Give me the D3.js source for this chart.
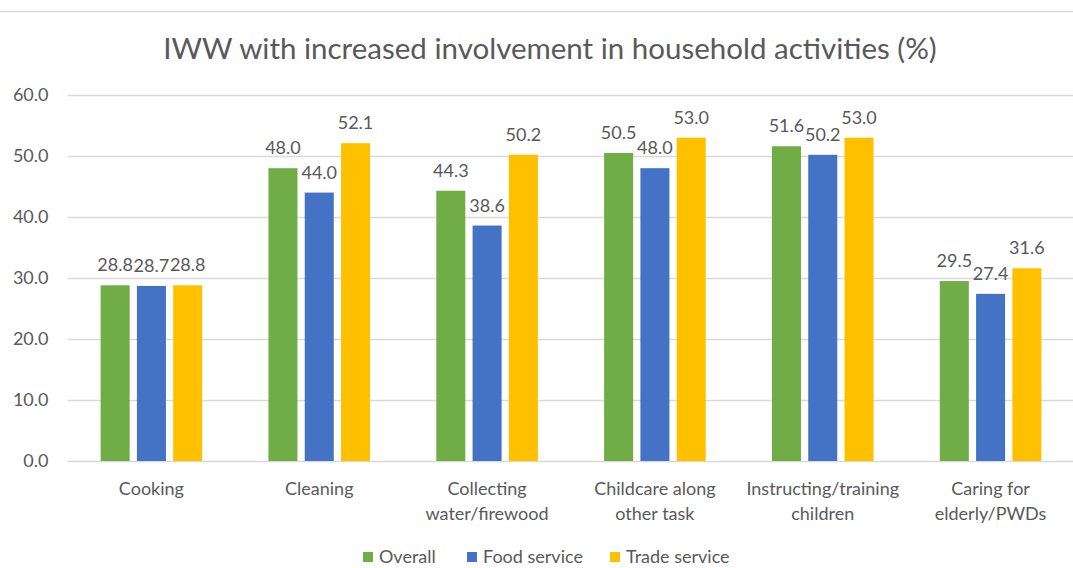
<!DOCTYPE html>
<html>
<head>
<meta charset="utf-8">
<script src="https://cdn.jsdelivr.net/npm/d3@7"></script>
<style>
  html, body { margin: 0; padding: 0; background: #fff; }
  svg { display: block; font-family: Lato, "Open Sans", sans-serif; }
</style>
</head>
<body>
<svg id="chart" width="1073" height="568"></svg>
<script>
const title = "IWW with increased involvement in household activities (%)";
const categories = [
  ["Cooking"],
  ["Cleaning"],
  ["Collecting", "water/firewood"],
  ["Childcare along", "other task"],
  ["Instructing/training", "children"],
  ["Caring for", "elderly/PWDs"]
];
const seriesNames = ["Overall", "Food service", "Trade service"];
const seriesColors = ["#70AD47", "#4472C4", "#FFC000"];
const overall      = [28.8, 48.0, 44.3, 50.5, 51.6, 29.5];
const foodService  = [28.7, 44.0, 38.6, 48.0, 50.2, 27.4];
const tradeService = [28.8, 52.1, 50.2, 53.0, 53.0, 31.6];
const yTicks = [0, 10, 20, 30, 40, 50, 60];

const seriesValues = [overall, foodService, tradeService];
const catKeys = categories.map(c => c.join(" "));

const svg = d3.select("#chart");
const W = 1073, H = 568;
const textColor = "#595959";
const gridColor = "#D9D9D9";

// chart border (top edge visible)
svg.append("line").attr("x1", 0).attr("x2", W).attr("y1", 11.5).attr("y2", 11.5)
  .attr("stroke", gridColor).attr("stroke-width", 1.5);

const plotLeft = 67.5, plotRight = 1074.5, plotTop = 95, plotBottom = 461;

const x0 = d3.scaleBand().domain(catKeys).range([plotLeft, plotRight]).padding(0);
const groupW = 101.6;
const x1 = d3.scaleBand().domain(seriesNames).range([0, groupW]).paddingInner(0.2).paddingOuter(0);
const y = d3.scaleLinear().domain([0, 60]).range([plotBottom, plotTop]);

// Title
svg.append("text")
  .attr("x", 550).attr("y", 59)
  .attr("text-anchor", "middle")
  .attr("fill", textColor)
  .attr("font-size", 29.5)
  .text(title);

// Grid + y axis
const yAxis = d3.axisLeft(y).tickValues(yTicks).tickFormat(d3.format(".1f"))
  .tickSize(-(plotRight - plotLeft)).tickPadding(19);
const gy = svg.append("g").attr("transform", `translate(${plotLeft},0)`).call(yAxis);
gy.select(".domain").remove();
gy.selectAll(".tick line").attr("stroke", gridColor).attr("stroke-width", 1.3);
gy.selectAll(".tick text").attr("fill", textColor).attr("font-size", 18)
  .attr("font-family", "Lato, 'Open Sans', sans-serif");

// Bars
const groups = svg.append("g").selectAll("g")
  .data(catKeys).join("g")
  .attr("transform", d => `translate(${x0(d) + (x0.bandwidth() - groupW) / 2},0)`);

groups.each(function(cat, ci) {
  const g = d3.select(this);
  seriesNames.forEach((s, si) => {
    const v = seriesValues[si][ci];
    g.append("rect")
      .attr("x", x1(s)).attr("width", x1.bandwidth())
      .attr("y", y(v)).attr("height", y(0) - y(v))
      .attr("fill", seriesColors[si]);
    g.append("text")
      .attr("x", x1(s) + x1.bandwidth() / 2)
      .attr("y", y(v) - 14)
      .attr("text-anchor", "middle")
      .attr("fill", textColor)
      .attr("font-size", 18)
      .text(d3.format(".1f")(v));
  });
});

// Category labels
const xAxis = svg.append("g");
categories.forEach((lines, ci) => {
  const cx = x0(catKeys[ci]) + x0.bandwidth() / 2;
  const t = xAxis.append("text")
    .attr("x", cx).attr("y", 495)
    .attr("text-anchor", "middle")
    .attr("fill", textColor)
    .attr("font-size", 18);
  lines.forEach((ln, li) => {
    t.append("tspan").attr("x", cx).attr("dy", li === 0 ? 0 : 24.5).text(ln);
  });
});

// Legend
const legendX = [363, 467, 610];
const legend = svg.append("g");
seriesNames.forEach((s, si) => {
  legend.append("rect")
    .attr("x", legendX[si]).attr("y", 552).attr("width", 10).attr("height", 10)
    .attr("fill", seriesColors[si]);
  legend.append("text")
    .attr("x", legendX[si] + 16).attr("y", 563)
    .attr("fill", textColor).attr("font-size", 18)
    .text(s);
});
</script>
</body>
</html>
